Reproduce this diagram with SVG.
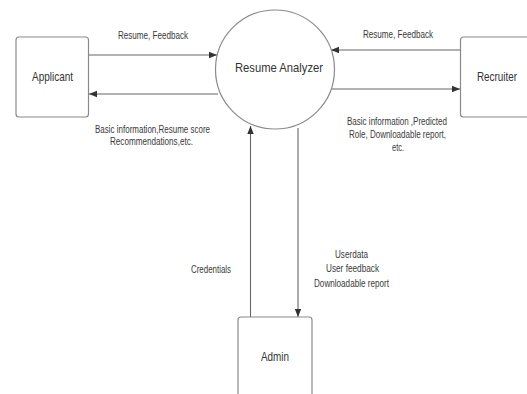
<svg xmlns="http://www.w3.org/2000/svg" width="527" height="394" viewBox="0 0 527 394">
<defs>
<style>
.box{fill:#fff;stroke:#8a8a8a;stroke-width:1.2}
.ln{fill:none;stroke:#666;stroke-width:1.1}
.lbl{font-family:"Liberation Sans",Arial,sans-serif;font-size:10px;fill:#3a3a3a}
.nm{font-family:"Liberation Sans",Arial,sans-serif;font-size:13px;fill:#333}
</style>
<marker id="ah" viewBox="0 0 10 10" refX="10" refY="5" markerWidth="8" markerHeight="8" markerUnits="userSpaceOnUse" orient="auto">
<path d="M0,1 L10,5 L0,9 z" fill="#333"/>
</marker>
</defs>
<rect width="527" height="394" fill="#fff"/>
<g id="connectors">
<line class="ln" x1="89" y1="55" x2="217" y2="55" marker-end="url(#ah)"/>
<line class="ln" x1="218" y1="94" x2="89" y2="94" marker-end="url(#ah)"/>
<line class="ln" x1="460" y1="50" x2="331" y2="50" marker-end="url(#ah)"/>
<line class="ln" x1="332" y1="89" x2="460" y2="89" marker-end="url(#ah)"/>
<line class="ln" x1="250.5" y1="317" x2="250.5" y2="126" marker-end="url(#ah)"/>
<line class="ln" x1="298" y1="128" x2="298" y2="317" marker-end="url(#ah)"/>
<text class="lbl" x="118" y="38.5" textLength="70" lengthAdjust="spacingAndGlyphs">Resume, Feedback</text>
<text class="lbl" x="95" y="132.5" textLength="115" lengthAdjust="spacingAndGlyphs">Basic information,Resume score</text>
<text class="lbl" x="110" y="144.5" textLength="83" lengthAdjust="spacingAndGlyphs">Recommendations,etc.</text>
<text class="lbl" x="363" y="38" textLength="70" lengthAdjust="spacingAndGlyphs">Resume, Feedback</text>
<text class="lbl" x="347" y="124.5" textLength="100" lengthAdjust="spacingAndGlyphs">Basic information ,Predicted</text>
<text class="lbl" x="349" y="137.5" textLength="97" lengthAdjust="spacingAndGlyphs">Role, Downloadable report,</text>
<text class="lbl" x="392" y="151" textLength="12" lengthAdjust="spacingAndGlyphs">etc.</text>
<text class="lbl" x="191" y="272.5" textLength="40" lengthAdjust="spacingAndGlyphs">Credentials</text>
<text class="lbl" x="335" y="257.5" textLength="33" lengthAdjust="spacingAndGlyphs">Userdata</text>
<text class="lbl" x="326" y="272" textLength="53" lengthAdjust="spacingAndGlyphs">User feedback</text>
<text class="lbl" x="314" y="286.5" textLength="75" lengthAdjust="spacingAndGlyphs">Downloadable report</text>
</g>
<g id="applicant">
<rect class="box" x="16" y="37" width="72.5" height="80" rx="3"/>
<text class="nm" x="32" y="81" textLength="41" lengthAdjust="spacingAndGlyphs">Applicant</text>
</g>
<g id="resume-analyzer">
<circle class="box" cx="275" cy="69.5" r="59.5"/>
<text class="nm" x="235" y="71.5" textLength="88" lengthAdjust="spacingAndGlyphs">Resume Analyzer</text>
</g>
<g id="recruiter">
<rect class="box" x="460.5" y="37" width="80" height="80" rx="3"/>
<text class="nm" x="477" y="81" textLength="40" lengthAdjust="spacingAndGlyphs">Recruiter</text>
</g>
<g id="admin">
<rect class="box" x="238" y="317" width="74" height="90" rx="3"/>
<text class="nm" x="261" y="361" textLength="28" lengthAdjust="spacingAndGlyphs">Admin</text>
</g>
</svg>
